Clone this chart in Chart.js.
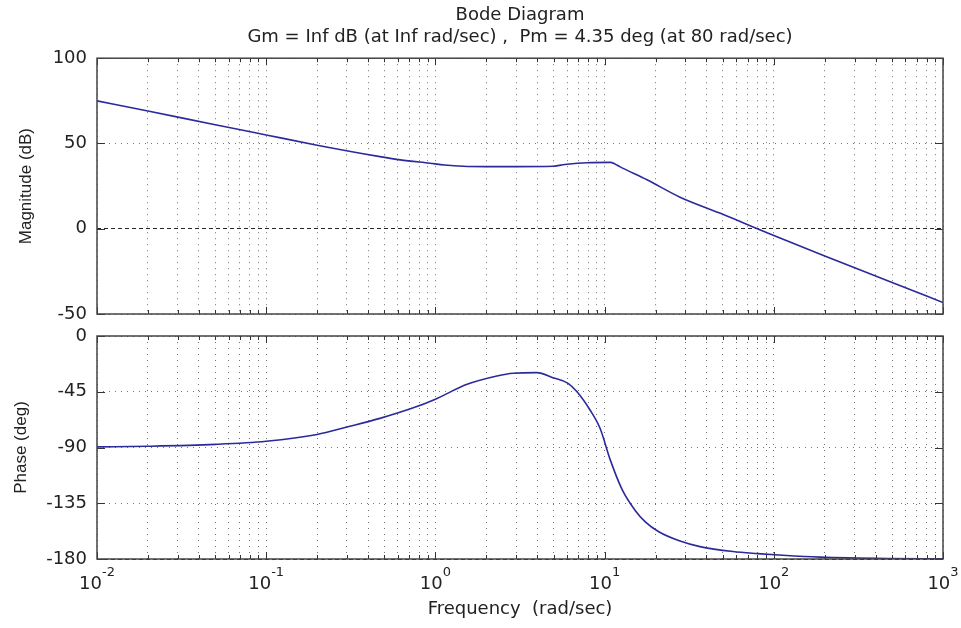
<!DOCTYPE html>
<html>
<head>
<meta charset="utf-8">
<script src="https://cdn.jsdelivr.net/npm/chart.js@4"></script>
<style>
  body { margin: 0; background: #fff; }
  #wrap { position: relative; width: 961px; height: 628px; background: #fff; }
  canvas { position: absolute; left: 0; }
</style>
</head>
<body>
<div id="wrap">
  <canvas id="magChart" width="961" height="326" style="top:0px"></canvas>
  <canvas id="phaseChart" width="961" height="306" style="top:322px"></canvas>
</div>
<script>
// ---- data ----
const magFreq = [0.01, 0.02, 0.05, 0.1, 0.2, 0.47, 0.62, 0.93, 1.13, 1.46, 2, 3, 4.95, 5.5, 6, 7.9, 10.8, 11.5, 12.3, 17.8, 27.9, 50, 80, 100, 200, 500, 1000];
const magDb   = [75, 69, 61, 55, 49, 42.3, 40.4, 38.4, 37.4, 36.6, 36.4, 36.4, 36.6, 37.3, 37.8, 38.7, 38.9, 38.0, 36.4, 28.7, 18.5, 8.5, 0, -4, -16, -31.5, -43.3];

const phaseFreq = [0.01, 0.02, 0.05, 0.1, 0.2, 0.3, 0.47, 0.74, 1.0, 1.54, 2.31, 2.88, 3.98, 4.95, 6.08, 6.87, 8.2, 9.4, 10.8, 12.7, 15.2, 17.4, 20.9, 27.9, 36.6, 57.4, 80, 113, 187, 467, 1000];
const phaseDeg  = [-89.5, -89, -87.5, -85, -79.5, -73.5, -66.5, -58, -51, -39, -32.3, -30.1, -29.6, -33.7, -38.2, -45, -59.7, -74.5, -100, -124, -141, -150, -158, -165.5, -170, -174, -175.65, -177, -178.5, -179.6, -179.8];

const xDecades = [0.01, 0.1, 1, 10, 100, 1000];
const xExpLabels = ['-2', '-1', '0', '1', '2', '3'];
const magTicks = [-50, 0, 50, 100];
const phaseTicks = [-180, -135, -90, -45, 0];

const titleText = 'Bode Diagram';
const subtitleText = 'Gm = Inf dB (at Inf rad/sec) ,  Pm = 4.35 deg (at 80 rad/sec)';

const lineColor = '#2a2a9c';
const textColor = '#222';
const WIDE = 'DejaVu Sans, Verdana, sans-serif';
const NARROW = 'Liberation Sans, Arial, sans-serif';

// grid positions: 1..9 x each decade
const xGrid = [];
xDecades.forEach((d, i) => {
  if (i === xDecades.length - 1) { xGrid.push(d); return; }
  for (let k = 1; k <= 9; k++) xGrid.push(+(d * k).toPrecision(3));
});

function pts(xs, ys) { return xs.map((x, i) => ({ x: x, y: ys[i] })); }

// box, inward ticks and decade labels like matlab
const matlabAxes = {
  id: 'matlabAxes',
  afterDraw(chart, args, opts) {
    const { ctx, chartArea: a, scales } = chart;
    const xs = scales.x, ys = scales.y;
    ctx.save();
    ctx.strokeStyle = '#333';
    ctx.lineWidth = 1;
    // inward ticks
    ctx.beginPath();
    xGrid.forEach(v => {
      const px = Math.round(xs.getPixelForValue(v)) + 0.5;
      const len = xDecades.includes(v) ? 7 : 4;
      ctx.moveTo(px, a.top); ctx.lineTo(px, a.top + len);
      ctx.moveTo(px, a.bottom); ctx.lineTo(px, a.bottom - len);
    });
    opts.yTicks.forEach(v => {
      const py = Math.round(ys.getPixelForValue(v)) + 0.5;
      ctx.moveTo(a.left, py); ctx.lineTo(a.left + 8, py);
      ctx.moveTo(a.right, py); ctx.lineTo(a.right - 8, py);
    });
    ctx.stroke();
    // box
    ctx.lineWidth = 1.5;
    ctx.strokeStyle = '#444';
    ctx.strokeRect(a.left, a.top, a.right - a.left, a.bottom - a.top);
    // x labels 10^n
    if (opts.xLabels) {
      ctx.fillStyle = textColor;
      ctx.textBaseline = 'alphabetic';
      ctx.textAlign = 'left';
      xDecades.forEach((v, i) => {
        const px = xs.getPixelForValue(v);
        ctx.font = '18px ' + WIDE;
        const w1 = ctx.measureText('10').width;
        ctx.font = '13px ' + WIDE;
        const w2 = ctx.measureText(xExpLabels[i]).width;
        const x0 = px - (w1 + w2) / 2;
        ctx.font = '18px ' + WIDE;
        ctx.fillText('10', x0, a.bottom + 30);
        ctx.font = '13px ' + WIDE;
        ctx.fillText(xExpLabels[i], x0 + w1, a.bottom + 17);
      });
    }
    ctx.restore();
  }
};

function xScale(height) {
  return {
    type: 'logarithmic',
    min: 0.01,
    max: 1000,
    afterBuildTicks: s => { s.ticks = xGrid.map(v => ({ value: v })); },
    afterFit: s => { s.height = height; },
    ticks: { display: false, autoSkip: false },
    grid: { color: 'rgba(0,0,0,0.55)', lineWidth: 1, drawTicks: false },
    border: { display: false, dash: [1, 5] }
  };
}

function yScale(tickVals, min, max, title, titlePad, refVal) {
  return {
    min: min,
    max: max,
    afterBuildTicks: s => { s.ticks = tickVals.map(v => ({ value: v })); },
    afterFit: s => { s.width = 97; },
    ticks: { color: textColor, font: { family: WIDE, size: 18 }, padding: 0 },
    grid: {
      color: c => c.tick && c.tick.value === refVal ? 'rgba(0,0,0,0.85)' : 'rgba(0,0,0,0.55)',
      lineWidth: 1,
      drawTicks: true,
      tickLength: 10,
      tickColor: 'rgba(0,0,0,0)'
    },
    border: {
      display: false,
      dash: c => c.tick && c.tick.value === refVal ? [4, 3] : [1, 5]
    },
    title: { display: true, text: title, color: textColor, font: { family: NARROW, size: 17 }, padding: { top: titlePad, bottom: 0 } }
  };
}

const lineDs = (label, data) => ({
  label: label,
  data: data,
  borderColor: lineColor,
  borderWidth: 1.6,
  pointRadius: 0,
  fill: false,
  cubicInterpolationMode: 'monotone'
});

new Chart(document.getElementById('magChart'), {
  type: 'line',
  data: { datasets: [lineDs('Magnitude', pts(magFreq, magDb))] },
  options: {
    responsive: false,
    animation: false,
    layout: { padding: { left: 0, right: 18, top: 0, bottom: 12 } },
    scales: {
      x: xScale(0),
      y: yScale(magTicks, -50, 100, 'Magnitude (dB)', 16, 0)
    },
    plugins: {
      legend: { display: false },
      tooltip: { enabled: false },
      title: {
        display: true, text: titleText, fullSize: false, color: textColor,
        font: { family: WIDE, size: 18, weight: 'normal' },
        padding: { top: 5, bottom: 0 }
      },
      subtitle: {
        display: true, text: subtitleText, fullSize: false, color: textColor,
        font: { family: WIDE, size: 18, weight: 'normal' },
        padding: { top: 0, bottom: 10 }
      },
      matlabAxes: { yTicks: magTicks, xLabels: false }
    }
  },
  plugins: [matlabAxes]
});

new Chart(document.getElementById('phaseChart'), {
  type: 'line',
  data: { datasets: [lineDs('Phase', pts(phaseFreq, phaseDeg))] },
  options: {
    responsive: false,
    animation: false,
    layout: { padding: { left: 0, right: 18, top: 14, bottom: 0 } },
    scales: {
      x: Object.assign(xScale(69), {
        title: { display: true, text: 'Frequency  (rad/sec)', color: textColor, font: { family: WIDE, size: 18 }, padding: { top: 0, bottom: 8 } }
      }),
      y: yScale(phaseTicks, -180, 0, 'Phase (deg)', 11, -180)
    },
    plugins: {
      legend: { display: false },
      tooltip: { enabled: false },
      matlabAxes: { yTicks: phaseTicks, xLabels: true }
    }
  },
  plugins: [matlabAxes]
});
</script>
</body>
</html>
